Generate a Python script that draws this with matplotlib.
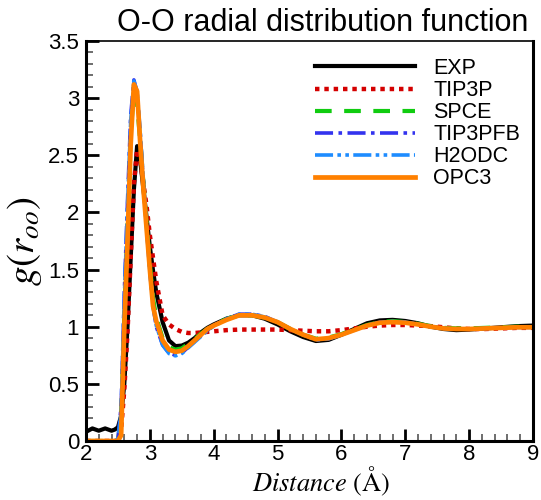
import matplotlib
matplotlib.use("Agg")
import matplotlib.pyplot as plt
from matplotlib.ticker import MultipleLocator

plt.rcParams['font.family'] = ['Liberation Sans', 'DejaVu Sans']
plt.rcParams['mathtext.fontset'] = 'stix'

r = [2.0, 2.1, 2.2, 2.3, 2.4, 2.45, 2.5, 2.55, 2.6, 2.65, 2.7, 2.75, 2.8, 2.85,
     2.9, 2.95, 3.0, 3.05, 3.1, 3.2, 3.3, 3.4, 3.5, 3.6, 3.7, 3.8, 3.9, 4.0,
     4.2, 4.4, 4.6, 4.8, 5.0, 5.2, 5.4, 5.6, 5.8, 6.0, 6.2, 6.4, 6.6, 6.8,
     7.0, 7.2, 7.4, 7.6, 7.8, 8.0, 8.25, 8.5, 8.75, 9.0]

exp = [0.08, 0.11, 0.09, 0.11, 0.09, 0.10, 0.12, 0.22, 0.50, 1.00, 1.60, 2.20, 2.58, 2.45,
       2.20, 1.95, 1.70, 1.49, 1.30, 1.04, 0.88, 0.83, 0.835, 0.86, 0.90, 0.95, 0.99, 1.02,
       1.07, 1.10, 1.10, 1.07, 1.02, 0.96, 0.91, 0.875, 0.885, 0.93, 0.98, 1.03, 1.055, 1.06,
       1.05, 1.03, 1.00, 0.98, 0.97, 0.975, 0.985, 0.995, 1.005, 1.01]

tip3p = [0.0, 0.0, 0.0, 0.0, 0.0, 0.0, 0.0, 0.10, 0.45, 0.95, 1.60, 2.25, 2.55, 2.45,
         2.25, 2.05, 1.80, 1.60, 1.40, 1.10, 1.02, 0.98, 0.955, 0.945, 0.945, 0.95, 0.955, 0.96,
         0.97, 0.975, 0.975, 0.975, 0.975, 0.97, 0.965, 0.96, 0.96, 0.97, 0.985, 1.00, 1.01, 1.015,
         1.015, 1.01, 1.005, 0.995, 0.985, 0.98, 0.98, 0.985, 0.99, 0.99]

spce = [0.0, 0.0, 0.0, 0.0, 0.0, 0.0, 0.0, 0.20, 1.10, 1.90, 2.70, 3.05, 2.95, 2.62,
        2.25, 1.90, 1.55, 1.25, 1.08, 0.90, 0.82, 0.80, 0.81, 0.85, 0.89, 0.94, 0.98, 1.01,
        1.07, 1.10, 1.10, 1.08, 1.04, 0.98, 0.93, 0.895, 0.905, 0.935, 0.975, 1.015, 1.04, 1.05,
        1.04, 1.025, 1.005, 0.99, 0.985, 0.985, 0.99, 0.995, 1.0, 1.0]

tip3pfb = [0.0, 0.0, 0.0, 0.0, 0.0, 0.0, 0.02, 0.30, 1.30, 2.10, 2.85, 3.16, 3.05, 2.68,
           2.25, 1.85, 1.48, 1.18, 1.00, 0.84, 0.77, 0.75, 0.77, 0.82, 0.87, 0.92, 0.97, 1.01,
           1.07, 1.11, 1.11, 1.09, 1.04, 0.98, 0.93, 0.885, 0.895, 0.93, 0.97, 1.01, 1.04, 1.045,
           1.04, 1.02, 1.0, 0.985, 0.98, 0.98, 0.985, 0.99, 0.995, 0.995]

h2odc = [0.0, 0.0, 0.0, 0.0, 0.0, 0.0, 0.02, 0.25, 1.25, 2.05, 2.80, 3.15, 3.06, 2.70,
         2.27, 1.86, 1.49, 1.19, 1.01, 0.84, 0.765, 0.745, 0.765, 0.815, 0.865, 0.915, 0.965, 1.005,
         1.065, 1.11, 1.11, 1.085, 1.04, 0.98, 0.93, 0.885, 0.895, 0.93, 0.97, 1.01, 1.04, 1.045,
         1.04, 1.02, 1.0, 0.985, 0.98, 0.98, 0.985, 0.99, 0.995, 0.995]

opc3 = [0.0, 0.0, 0.0, 0.0, 0.0, 0.0, 0.0, 0.05, 1.00, 1.75, 2.60, 3.12, 3.06, 2.60,
        2.20, 1.85, 1.50, 1.18, 1.05, 0.88, 0.80, 0.78, 0.79, 0.83, 0.88, 0.93, 0.98, 1.01,
        1.06, 1.10, 1.10, 1.08, 1.04, 0.98, 0.93, 0.89, 0.90, 0.93, 0.97, 1.01, 1.035, 1.04,
        1.035, 1.02, 1.0, 0.985, 0.98, 0.98, 0.985, 0.99, 0.995, 0.995]

labels = ['EXP', 'TIP3P', 'SPCE', 'TIP3PFB', 'H2ODC', 'OPC3']
xticks = [2, 3, 4, 5, 6, 7, 8, 9]
yticks = [0, 0.5, 1, 1.5, 2, 2.5, 3, 3.5]
ytick_labels = ['0', '0.5', '1', '1.5', '2', '2.5', '3', '3.5']

fig = plt.figure(figsize=(5.41, 5.0), dpi=100)
ax = fig.add_axes([86/541, 59/500, (533-86)/541, (441-41)/500])

series = [exp, tip3p, spce, tip3pfb, h2odc, opc3]
styles = [
    dict(color='black', lw=3.0, ls='-'),
    dict(color='#d40000', lw=3.2, ls=(0, (1, 1.1))),
    dict(color='#10cc10', lw=3.0, ls=(0, (4, 3))),
    dict(color='#3333ee', lw=2.6, ls=(0, (5, 1.5, 1, 1.5))),
    dict(color='#1e8cff', lw=2.6, ls=(0, (5, 1.2, 1, 1.2, 1, 1.2))),
    dict(color='#ff8000', lw=3.4, ls='-'),
]
for y, lab, st in zip(series, labels, styles):
    ax.plot(r, y, label=lab, **st)

ax.set_xlim(2, 9)
ax.set_ylim(0, 3.5)
ax.set_xticks(xticks)
ax.set_xticklabels([str(t) for t in xticks])
ax.set_yticks(yticks)
ax.set_yticklabels(ytick_labels)
ax.xaxis.set_minor_locator(MultipleLocator(0.2))
ax.yaxis.set_minor_locator(MultipleLocator(0.1))
ax.tick_params(which='major', direction='in', length=9, width=2, labelsize=16,
               top=False, right=False)
ax.tick_params(axis='x', which='major', pad=2)
ax.tick_params(axis='y', which='major', pad=5)
ax.tick_params(which='minor', direction='in', length=5, width=1.2, color='#555555',
               top=False, right=False)
for s in ax.spines.values():
    s.set_linewidth(2.2)
ax.spines['top'].set_linewidth(1.2)

ax.set_xlabel(r'$Distance\ (\mathrm{\AA})$', fontsize=19)
ax.xaxis.set_label_coords((321-86)/447, -(465-441)/400)
ax.set_ylabel(r'$g(r_{oo})$', fontsize=28, labelpad=3)

fig.text(323/541, 1 - 23/500, 'O-O radial distribution function', fontsize=22,
         ha='center', va='center')

leg = ax.legend(loc='upper left', frameon=False, fontsize=15.5, handlelength=4.65,
                handletextpad=0.84, labelspacing=0.05, borderaxespad=0, borderpad=0,
                bbox_to_anchor=((315-86)/447, 1 - (58-41)/400))

fig.savefig('out.png', dpi=100)
